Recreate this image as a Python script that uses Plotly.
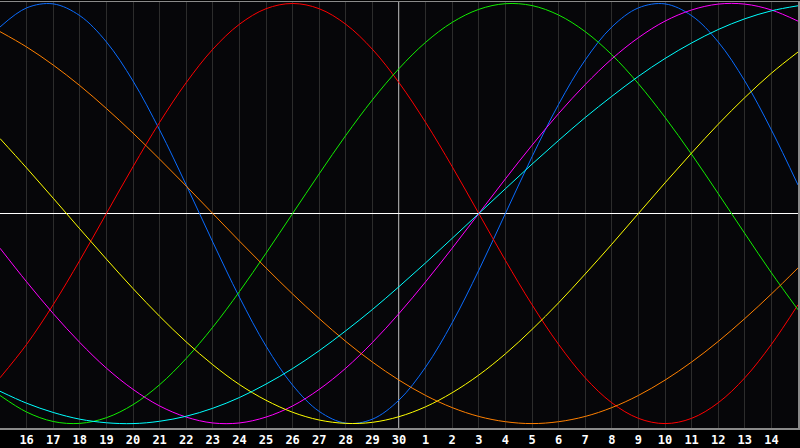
import plotly.graph_objects as go

# Day positions (0 = left edge, 30 = right edge), one sample per day
days = list(range(31))
tick_pos = list(range(1, 30))
tick_labels = ["16", "17", "18", "19", "20", "21", "22", "23", "24", "25", "26", "27", "28", "29", "30",
               "1", "2", "3", "4", "5", "6", "7", "8", "9", "10", "11", "12", "13", "14"]
today_pos = 15

physical_23 = [0.888, 0.979, 0.998, 0.942, 0.817, 0.631, 0.398, 0.136, -0.136, -0.398, -0.631, -0.817, -0.942, -0.998, -0.979,
               -0.888, -0.731, -0.520, -0.270, 0.000, 0.270, 0.520, 0.731, 0.888, 0.979, 0.998, 0.942, 0.817, 0.631, 0.398, 0.136]
emotional_28 = [-0.782, -0.623, -0.434, -0.223, 0.000, 0.223, 0.434, 0.623, 0.782, 0.901, 0.975, 1.000, 0.975, 0.901, 0.782,
                0.623, 0.434, 0.223, 0.000, -0.223, -0.434, -0.623, -0.782, -0.901, -0.975, -1.000, -0.975, -0.901, -0.782, -0.623, -0.434]
intellectual_33 = [-0.866, -0.945, -0.990, -0.999, -0.972, -0.910, -0.815, -0.690, -0.541, -0.372, -0.189, 0.000, 0.189, 0.372, 0.541,
                   0.690, 0.815, 0.910, 0.972, 0.999, 0.990, 0.945, 0.866, 0.756, 0.618, 0.458, 0.282, 0.095, -0.095, -0.282, -0.458]
intuitive_38 = [-0.165, -0.325, -0.476, -0.614, -0.736, -0.837, -0.916, -0.969, -0.997, -0.997, -0.969, -0.916, -0.837, -0.736, -0.614,
                -0.476, -0.325, -0.165, 0.000, 0.165, 0.325, 0.476, 0.614, 0.736, 0.837, 0.916, 0.969, 0.997, 0.997, 0.969, 0.916]
aesthetic_43 = [0.357, 0.217, 0.073, -0.073, -0.217, -0.357, -0.489, -0.611, -0.720, -0.814, -0.889, -0.946, -0.983, -0.999, -0.994,
                -0.967, -0.920, -0.853, -0.769, -0.668, -0.552, -0.425, -0.288, -0.146, 0.000, 0.146, 0.288, 0.425, 0.552, 0.668, 0.769]
awareness_48 = [0.866, 0.793, 0.707, 0.609, 0.500, 0.383, 0.259, 0.131, 0.000, -0.131, -0.259, -0.383, -0.500, -0.609, -0.707,
                -0.793, -0.866, -0.924, -0.966, -0.991, -1.000, -0.991, -0.966, -0.924, -0.866, -0.793, -0.707, -0.609, -0.500, -0.383, -0.259]
spiritual_53 = [-0.846, -0.903, -0.947, -0.979, -0.996, -1.000, -0.989, -0.965, -0.927, -0.876, -0.812, -0.738, -0.653, -0.558, -0.457,
                -0.348, -0.235, -0.118, 0.000, 0.118, 0.235, 0.348, 0.457, 0.558, 0.653, 0.738, 0.812, 0.876, 0.927, 0.965, 0.989]

series = [
    ("Physical", physical_23, "#0a6cff"),
    ("Emotional", emotional_28, "#ff0000"),
    ("Intellectual", intellectual_33, "#11ee00"),
    ("Intuitive", intuitive_38, "#ff00ff"),
    ("Aesthetic", aesthetic_43, "#ffff00"),
    ("Awareness", awareness_48, "#ff8000"),
    ("Spiritual", spiritual_53, "#00ffff"),
]

fig = go.Figure()
for name, vals, col in series:
    fig.add_trace(go.Scatter(x=days, y=vals, mode="lines", name=name,
                             line=dict(color=col, width=1, shape="spline", smoothing=1.0),
                             hoverinfo="skip"))

fig.add_vline(x=today_pos, line_color="#ffffff", line_width=1.2, layer="below")

fig.update_layout(
    width=800, height=448,
    margin=dict(l=0, r=0, t=0, b=20),
    paper_bgcolor="#000000",
    plot_bgcolor="#060609",
    showlegend=False,
    xaxis=dict(range=[0, 30], tickmode="array", tickvals=tick_pos, ticktext=tick_labels,
               showgrid=True, gridcolor="#2c2c2c", gridwidth=1, zeroline=False,
               showline=True, linecolor="#8a8a8a", linewidth=1.5, mirror=True,
               ticks="", tickfont=dict(family="DejaVu Sans Mono", size=12, color="#ffffff", weight="bold"),
               fixedrange=True),
    yaxis=dict(range=[-1.021, 1.007], showgrid=False, showticklabels=False, ticks="",
               zeroline=True, zerolinecolor="#ffffff", zerolinewidth=1.2,
               showline=True, linecolor="#8a8a8a", linewidth=1.5, mirror=True, fixedrange=True),
)

fig.write_html("out.html", config={"displayModeBar": False, "staticPlot": True},
               post_script="document.body.style.margin='0';document.body.style.overflow='hidden';")
